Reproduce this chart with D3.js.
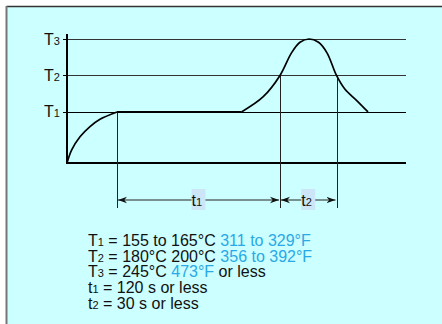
<!DOCTYPE html>
<html><head><meta charset="utf-8">
<script src="https://cdn.jsdelivr.net/npm/d3@7"></script>
<style>body{margin:0;background:#fff}svg{display:block}text{font-family:"Liberation Sans",Arial,sans-serif}</style>
</head><body>
<script>
// ---- data ----
const levelLabels = ["T", "T", "T"];
const levelSubs = ["1", "2", "3"];
const levelValues = [1.4, 2.4, 3.4];
// rise to T1, soak, reflow peak (time units, level units)
const riseTime   = [0, 4.7, 13, 23, 33, 50];
const riseLevel  = [0, 0.36, 0.72, 1.0, 1.2, 1.4];
const soakTime   = [50, 174.5];
const soakLevel  = [1.4, 1.4];
const peakTime   = [174.5, 196, 213, 224.5, 233, 242, 251.5, 260, 269.5, 278, 289.5, 301];
const peakLevel  = [1.4, 1.81, 2.4, 3.02, 3.31, 3.4, 3.31, 3.02, 2.4, 2.02, 1.72, 1.4];
const spanLabels = ["t", "t"];
const spanSubs = ["1", "2"];
const spanFrom = [50, 213];
const spanTo = [213, 269.5];
const spanFromLevel = [1.4, 2.4];
const spanToLevel = [2.4, 2.4];
const timeMax = 339;
const noteLines = [
  [["T",""],["1","sub"],[" = 155 to 165°C ",""],["311 to 329°F","blue"]],
  [["T",""],["2","sub"],[" = 180°C 200°C ",""],["356 to 392°F","blue"]],
  [["T",""],["3","sub"],[" = 245°C ",""],["473°F","blue"],[" or less",""]],
  [["t",""],["1","sub"],[" = 120 s or less",""]],
  [["t",""],["2","sub"],[" = 30 s or less",""]]
];

// ---- drawing ----
const W = 442, H = 324;
const svg = d3.select("body").append("svg").attr("width", W).attr("height", H);
svg.append("rect").attr("x", 7).attr("y", 7).attr("width", W - 7).attr("height", H - 7).attr("fill", "#ccffff");
svg.append("line").attr("x1", 6.5).attr("x2", W).attr("y1", 6.5).attr("y2", 6.5).attr("stroke", "#333").attr("stroke-width", 1.5);
svg.append("line").attr("x1", 6.5).attr("x2", 6.5).attr("y1", 6).attr("y2", H).attr("stroke", "#777").attr("stroke-width", 2);

const x = d3.scaleLinear().domain([0, timeMax]).range([67, 406]);
const y = d3.scaleLinear().domain([0, 3.4]).range([163, 39]);

const defs = svg.append("defs");
defs.append("marker").attr("id", "ah").attr("viewBox", "0 0 10 10").attr("refX", 10).attr("refY", 5)
  .attr("markerWidth", 9).attr("markerHeight", 9).attr("markerUnits", "userSpaceOnUse").attr("orient", "auto-start-reverse")
  .append("path").attr("d", "M0,1.5 L10,5 L0,8.5 L3,5 Z").attr("fill", "#111");

// level lines
levelValues.forEach((v, i) => {
  svg.append("line").attr("x1", x(0)).attr("x2", x(timeMax)).attr("y1", Math.round(y(v)) + 0.5).attr("y2", Math.round(y(v)) + 0.5)
    .attr("stroke", i === 0 ? "#000" : "#333").attr("stroke-width", 1);
  svg.append("line").attr("x1", x(0) - 4).attr("x2", x(0)).attr("y1", Math.round(y(v)) + 0.5).attr("y2", Math.round(y(v)) + 0.5)
    .attr("stroke", "#000");
  const t = svg.append("text").attr("x", 44).attr("y", y(v) + 5.5).attr("font-size", 16).attr("fill", "#111");
  t.append("tspan").text(levelLabels[i]);
  t.append("tspan").attr("font-size", 11).text(levelSubs[i]);
});

// axes
svg.append("line").attr("x1", x(0)).attr("x2", x(0)).attr("y1", 34).attr("y2", y(0) + 1).attr("stroke", "#000").attr("stroke-width", 2);
svg.append("line").attr("x1", x(0)).attr("x2", x(timeMax)).attr("y1", y(0)).attr("y2", y(0)).attr("stroke", "#000").attr("stroke-width", 2);

// dimension lines
const dimY = 200, dimBottom = 208;
spanFrom.forEach((f, i) => {
  svg.append("line").attr("x1", Math.round(x(f)) + 0.5).attr("x2", Math.round(x(f)) + 0.5).attr("y1", y(spanFromLevel[i])).attr("y2", dimBottom).attr("stroke", "#222");
});
svg.append("line").attr("x1", Math.round(x(spanTo[1])) + 0.5).attr("x2", Math.round(x(spanTo[1])) + 0.5).attr("y1", y(spanToLevel[1])).attr("y2", dimBottom).attr("stroke", "#222");

spanFrom.forEach((f, i) => {
  const a = x(f) + 1, b = x(spanTo[i]) - 1, mid = (x(f) + x(spanTo[i])) / 2;
  svg.append("line").attr("x1", a).attr("x2", b).attr("y1", dimY).attr("y2", dimY).attr("stroke", "#222")
    .attr("marker-start", "url(#ah)").attr("marker-end", "url(#ah)");
  svg.append("rect").attr("x", mid - 7).attr("y", 189).attr("width", 14).attr("height", 21).attr("fill", "#cce6f7");
  const t = svg.append("text").attr("x", mid - 7).attr("y", 206).attr("font-size", 16).attr("fill", "#111");
  t.append("tspan").text(spanLabels[i]);
  t.append("tspan").attr("font-size", 11).text(spanSubs[i]);
});

// profile curve
const lineGen = d3.line().x(d => x(d[0])).y(d => y(d[1]));
const seg = (ts, ls) => ts.map((t, i) => [t, ls[i]]);
const g = svg.append("g").attr("fill", "none").attr("stroke", "#000").attr("stroke-width", 1.7);
g.append("path").attr("d", lineGen.curve(d3.curveCatmullRom.alpha(0.5))(seg(riseTime, riseLevel)));
g.append("path").attr("d", lineGen.curve(d3.curveLinear)(seg(soakTime, soakLevel)));
g.append("path").attr("d", lineGen.curve(d3.curveCatmullRom.alpha(0.5))(seg(peakTime, peakLevel)));

// notes
noteLines.forEach((parts, i) => {
  const t = svg.append("text").attr("x", 88).attr("y", 246 + i * 15.7).attr("font-size", 16).attr("fill", "#111");
  parts.forEach(([s, k]) => {
    const sp = t.append("tspan").text(s);
    if (k === "sub") sp.attr("font-size", 11);
    if (k === "blue") sp.attr("fill", "#29a9e6");
  });
});
</script>
</body></html>
